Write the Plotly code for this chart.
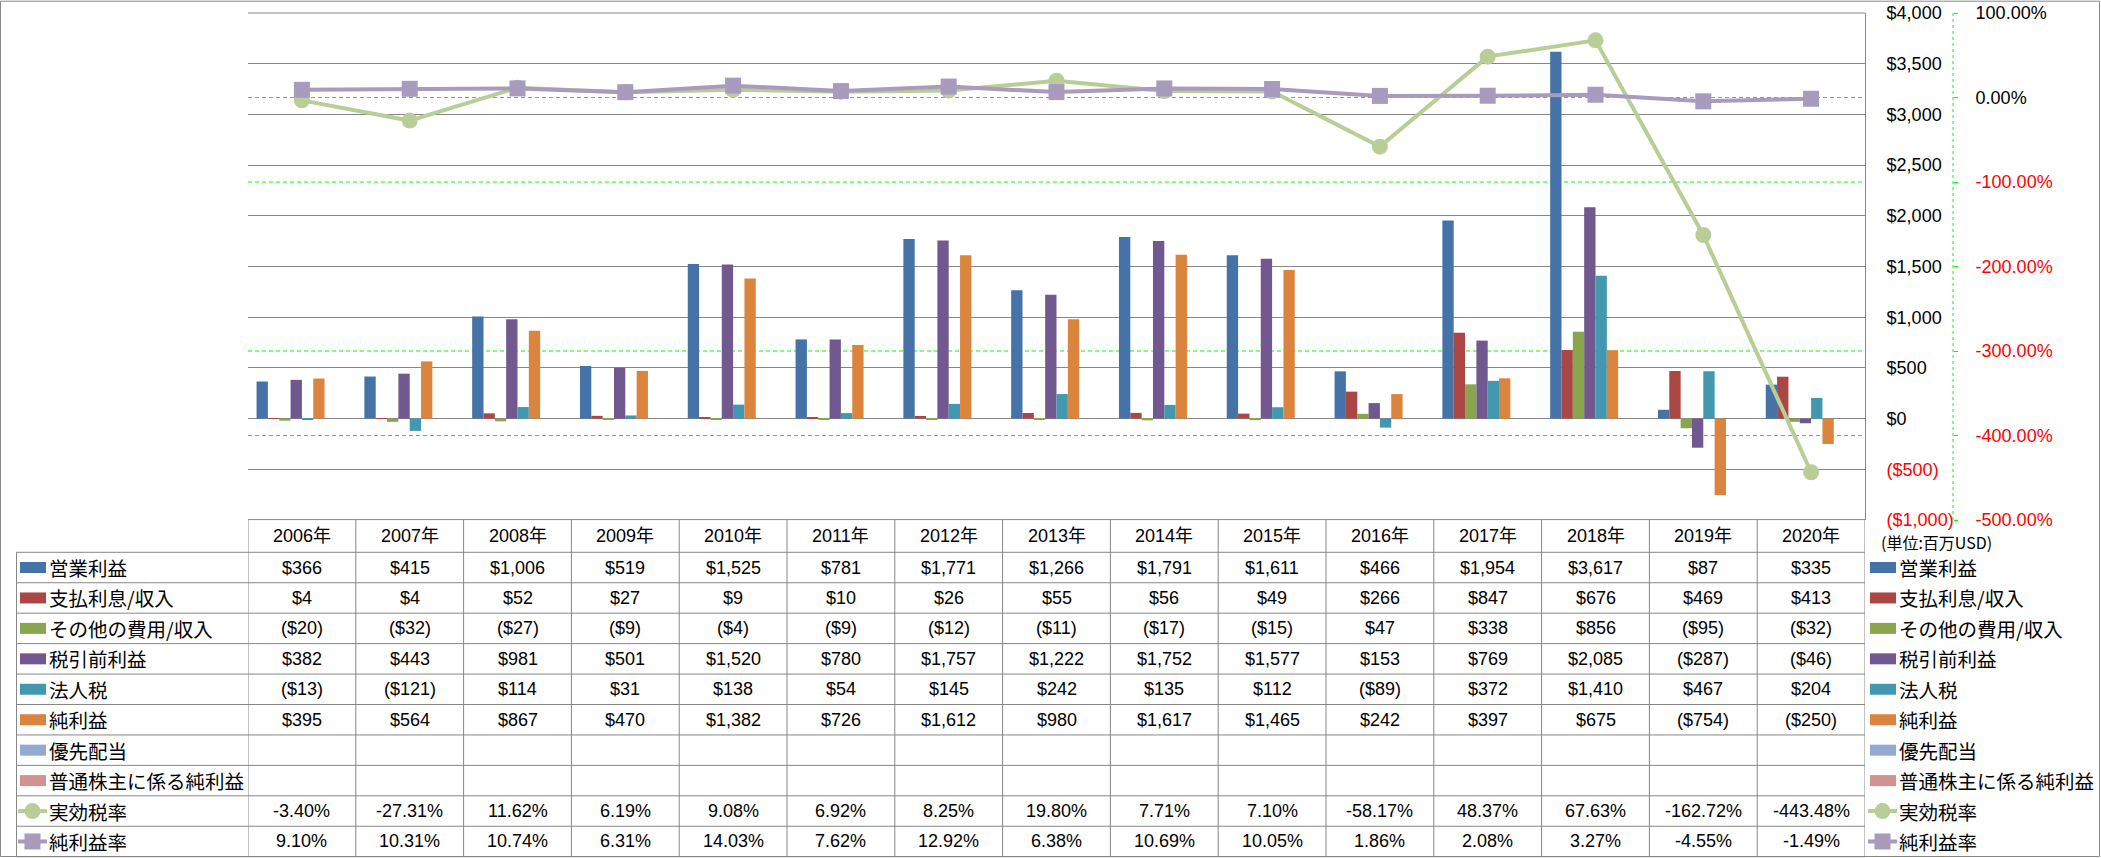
import plotly.graph_objects as go

# ---------------- data ----------------
years = ["2006年", "2007年", "2008年", "2009年", "2010年", "2011年", "2012年", "2013年",
         "2014年", "2015年", "2016年", "2017年", "2018年", "2019年", "2020年"]

op_income = [366, 415, 1006, 519, 1525, 781, 1771, 1266, 1791, 1611, 466, 1954, 3617, 87, 335]
interest = [4, 4, 52, 27, 9, 10, 26, 55, 56, 49, 266, 847, 676, 469, 413]
other_exp = [-20, -32, -27, -9, -4, -9, -12, -11, -17, -15, 47, 338, 856, -95, -32]
pretax = [382, 443, 981, 501, 1520, 780, 1757, 1222, 1752, 1577, 153, 769, 2085, -287, -46]
income_tax = [-13, -121, 114, 31, 138, 54, 145, 242, 135, 112, -89, 372, 1410, 467, 204]
net_income = [395, 564, 867, 470, 1382, 726, 1612, 980, 1617, 1465, 242, 397, 675, -754, -250]
pref_div = [None] * 15
common_net = [None] * 15
eff_tax_rate = [-3.40, -27.31, 11.62, 6.19, 9.08, 6.92, 8.25, 19.80, 7.71, 7.10, -58.17, 48.37,
                67.63, -162.72, -443.48]
net_margin = [9.10, 10.31, 10.74, 6.31, 14.03, 7.62, 12.92, 6.38, 10.69, 10.05, 1.86, 2.08,
              3.27, -4.55, -1.49]

bar_names = ["営業利益", "支払利息/収入", "その他の費用/収入", "税引前利益", "法人税", "純利益",
             "優先配当", "普通株主に係る純利益"]
line_names = ["実効税率", "純利益率"]
usd_ticks = [4000, 3500, 3000, 2500, 2000, 1500, 1000, 500, 0, -500, -1000]
pct_ticks = [100, 0, -100, -200, -300, -400, -500]
unit_label = "(単位:百万USD)"

# ---------------- style ----------------
bar_colors = ["#4572A7", "#AA4643", "#89A54E", "#71588F", "#4198AF", "#DB843D", "#93A9CF", "#D19392"]
line_colors = ["#B9CD96", "#A99BBD"]
line_symbols = ["circle", "square"]
GRID = "#878787"
LIME = "#00FF00"
RED = "#FF0000"
NUM_FONT = "Liberation Sans, Arial, Noto Sans CJK JP, sans-serif"
JP_FONT = "Noto Sans CJK JP, sans-serif"

W, H = 2101, 858
PL, PR_PAPER, PT, PB = 248, 1953, 13, 520   # paper area in px
PLOT_R = 1865
XD = (PLOT_R - PL) / (PR_PAPER - PL)
USD_RANGE = [-1000, 4000]
PCT_RANGE = [-500, 100]


def px_x(p):
    return (p - PL) / (PR_PAPER - PL)


def px_y(p):
    return (PB - p) / (PB - PT)


def money(v):
    if v is None:
        return ""
    return f"(${-v:,})" if v < 0 else f"${v:,}"


def pct(v):
    return "" if v is None else f"{v:.2f}%"


def red(s, neg):
    return f"<span style='color:{RED}'>{s}</span>" if neg else s


fig = go.Figure()

bar_data = [op_income, interest, other_exp, pretax, income_tax, net_income, pref_div, common_net]
for name, vals, col in zip(bar_names, bar_data, bar_colors):
    fig.add_trace(go.Bar(x=years, y=vals, name=name, yaxis="y",
                         marker=dict(color=col, line=dict(width=0))))

line_data = [eff_tax_rate, net_margin]
for name, vals, col, sym in zip(line_names, line_data, line_colors, line_symbols):
    fig.add_trace(go.Scatter(x=years, y=vals, name=name, yaxis="y2", mode="lines+markers",
                             line=dict(color=col, width=4),
                             marker=dict(symbol=sym, size=16, color=col)))

fig.update_layout(
    width=W, height=H,
    margin=dict(l=PL, r=W - PR_PAPER, t=PT, b=H - PB, autoexpand=False),
    paper_bgcolor="white", plot_bgcolor="white",
    showlegend=False,
    barmode="group", bargap=0.159, bargroupgap=0,
    xaxis=dict(domain=[0, XD], showticklabels=False, showgrid=False, zeroline=False,
               ticks="", showline=False, range=[-0.5, 14.5]),
    yaxis=dict(side="right", range=USD_RANGE, tickvals=usd_ticks,
               ticktext=[red(money(v), v < 0) for v in usd_ticks],
               showgrid=True, gridcolor=GRID, gridwidth=1, zeroline=False,
               showline=True, linecolor=GRID, linewidth=1, ticks="",
               tickfont=dict(family=NUM_FONT, size=18, color="black"),
               ticklabelstandoff=17),
    yaxis2=dict(overlaying="y", side="right", anchor="free", position=1,
                range=PCT_RANGE, tickvals=pct_ticks,
                ticktext=[red(pct(v), v < 0) for v in pct_ticks],
                showgrid=False, zeroline=False, showline=False, ticks="outside", ticklen=4,
                tickcolor=LIME, tickwidth=1,
                tickfont=dict(family=NUM_FONT, size=18, color="black"),
                ticklabelstandoff=14),
)

shapes = []
annotations = []

# secondary-axis gridlines; where one falls on a primary gridline the gray line wins
usd_fracs = [round((u - USD_RANGE[0]) / (USD_RANGE[1] - USD_RANGE[0]), 6) for u in usd_ticks]
for v in pct_ticks:
    frac = round((v - PCT_RANGE[0]) / (PCT_RANGE[1] - PCT_RANGE[0]), 6)
    if frac in usd_fracs:
        continue
    shapes.append(dict(type="line", xref="x", yref="y2", x0=-0.5, x1=14.5, y0=v, y1=v,
                       line=dict(color=LIME, width=1, dash="4px,3px"), layer="below"))


def hline(y, x0, x1, xref="paper", color=GRID, width=1, dash=None):
    d = dict(type="line", xref=xref, yref="paper", x0=x0, x1=x1, y0=px_y(y), y1=px_y(y),
             line=dict(color=color, width=width), layer="above")
    if dash:
        d["line"]["dash"] = dash
    shapes.append(d)


def vline(x, y0, y1, xref="paper", color=GRID, width=1, dash=None):
    d = dict(type="line", xref=xref, yref="paper", x0=x, x1=x, y0=px_y(y0), y1=px_y(y1),
             line=dict(color=color, width=width), layer="above")
    if dash:
        d["line"]["dash"] = dash
    shapes.append(d)


# outer chart border
shapes.append(dict(type="rect", xref="paper", yref="paper", x0=px_x(0.5), x1=px_x(2099.5),
                   y0=px_y(856.5), y1=px_y(1.2), line=dict(color=GRID, width=1),
                   fillcolor="rgba(0,0,0,0)", layer="above"))
# plot top border
hline(PT, 0, XD)
# secondary axis dashed line
vline(1, PT, PB, color=LIME, dash="3px,3px")

# table geometry
head_top, head_bot = 519.6, 552.3
row_h = 30.44
rows_y = [head_bot + i * row_h for i in range(11)]
tbl_left = 16.5

hline(head_top, -0.5, 14.5, xref="x")
for y in rows_y:
    hline(y, px_x(tbl_left), XD)
vline(px_x(tbl_left), head_bot, rows_y[-1])
for i in range(16):
    vline(i - 0.5, head_top, rows_y[-1], xref="x")

# header
for yr in years:
    annotations.append(dict(x=yr, xref="x", y=px_y((head_top + head_bot) / 2), yref="paper",
                            text=yr, showarrow=False, xanchor="center", yanchor="middle",
                            font=dict(family=NUM_FONT, size=18, color="black")))

# table rows
row_names = bar_names + line_names
row_texts = [[money(v) for v in s] for s in bar_data] + [[pct(v) for v in s] for s in line_data]
row_colors = bar_colors + line_colors

for r, (name, texts, col) in enumerate(zip(row_names, row_texts, row_colors)):
    yc = rows_y[r] + row_h / 2
    for yr, t in zip(years, texts):
        if t:
            annotations.append(dict(x=yr, xref="x", y=px_y(yc), yref="paper", text=t,
                                    showarrow=False, xanchor="center", yanchor="middle",
                                    font=dict(family=NUM_FONT, size=18, color="black")))
    # legend keys + labels (left in table, right outside)
    for kx0, kx1, tx in [(20, 46, 47), (1870, 1896, 1897)]:
        if r < len(bar_names):
            shapes.append(dict(type="rect", xref="paper", yref="paper",
                               x0=px_x(kx0), x1=px_x(kx1), y0=px_y(yc - 5.5), y1=px_y(yc + 5.5),
                               fillcolor=col, line=dict(width=0), layer="above"))
        else:
            lx0, lx1 = kx0 - 2, kx1 + 1
            shapes.append(dict(type="line", xref="paper", yref="paper",
                               x0=px_x(lx0), x1=px_x(lx1), y0=px_y(yc), y1=px_y(yc),
                               line=dict(color=col, width=4), layer="above"))
            cx = (lx0 + lx1) / 2
            shapes.append(dict(type="circle" if r == len(bar_names) else "rect",
                               xref="paper", yref="paper",
                               x0=px_x(cx - 8), x1=px_x(cx + 8), y0=px_y(yc - 8), y1=px_y(yc + 8),
                               fillcolor=col, line=dict(width=0), layer="above"))
        annotations.append(dict(x=px_x(tx), xref="paper", y=px_y(yc), yref="paper", text=name,
                                showarrow=False, xanchor="left", yanchor="middle",
                                font=dict(family=JP_FONT, size=19.5, color="black")))

# unit label
annotations.append(dict(x=px_x(1879), xref="paper", y=px_y(541.7), yref="paper", text=unit_label,
                        showarrow=False, xanchor="left", yanchor="middle",
                        font=dict(family=JP_FONT, size=16, color="black")))

fig.update_layout(shapes=shapes, annotations=annotations)

fig.write_html("out.html", config=dict(displayModeBar=False),
               post_script="document.body.style.margin='0';document.body.style.overflow='hidden';")
